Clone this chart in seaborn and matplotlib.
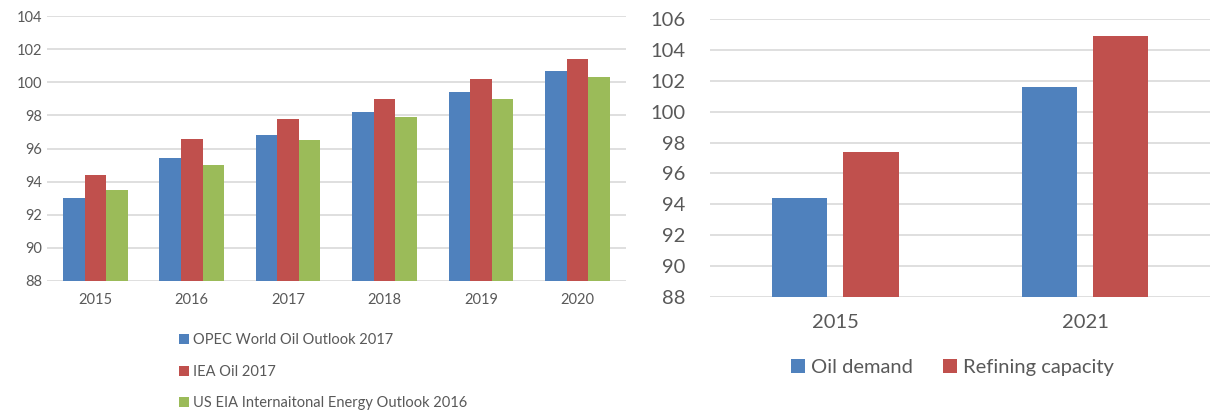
import pandas as pd
import seaborn as sns
from matplotlib import pyplot as plt

# left chart: world oil demand forecasts
years = ["2015", "2016", "2017", "2018", "2019", "2020"]
opec = [93.0, 95.4, 96.8, 98.2, 99.4, 100.7]
iea = [94.4, 96.6, 97.8, 99.0, 100.2, 101.4]
eia = [93.5, 95.0, 96.5, 97.9, 99.0, 100.3]
left_series = ["OPEC World Oil Outlook 2017", "IEA Oil 2017",
               "US EIA Internaitonal Energy Outlook 2016"]

# right chart: demand vs refining capacity
years_r = ["2015", "2021"]
demand = [94.4, 101.6]
refining = [97.4, 104.9]
right_series = ["Oil demand", "Refining capacity"]

BLUE, RED, GREEN = "#4F81BD", "#C0504D", "#9BBB59"
GRID = "#D9D9D9"
TXT = "#595959"

sns.set_theme(style="white")
plt.rcParams["font.family"] = ["Lato", "DejaVu Sans"]

df_l = pd.DataFrame({
    "year": years * 3,
    "value": opec + iea + eia,
    "source": [left_series[0]] * 6 + [left_series[1]] * 6 + [left_series[2]] * 6,
})
df_r = pd.DataFrame({
    "year": years_r * 2,
    "value": demand + refining,
    "series": [right_series[0]] * 2 + [right_series[1]] * 2,
})

fig = plt.figure(figsize=(12.1, 4.12), dpi=100)
ax1 = fig.add_axes([0.039, 0.318, 0.478, 0.643])
ax2 = fig.add_axes([0.587, 0.279, 0.413, 0.675])


def style_axis(ax, ymin, ymax, size):
    ax.set_ylim(ymin, ymax)
    ax.set_yticks(range(ymin, ymax + 1, 2))
    ax.yaxis.grid(True, color=GRID, linewidth=1.2)
    ax.set_axisbelow(True)
    for s in ax.spines.values():
        s.set_visible(False)
    ax.tick_params(axis="both", length=0, colors=TXT, labelsize=size)
    ax.set_xlabel("")
    ax.set_ylabel("")


sns.barplot(data=df_l, x="year", y="value", hue="source", ax=ax1,
            palette=[BLUE, RED, GREEN], width=0.67, saturation=1,
            edgecolor="none")
style_axis(ax1, 88, 104, 10.5)
ax1.tick_params(axis="x", pad=9)
h, l = ax1.get_legend_handles_labels()
ax1.get_legend().remove()
fig.legend(h, l, loc="upper left", bbox_to_anchor=(0.143, 0.205),
           frameon=False, fontsize=10.5, labelcolor=TXT, handlelength=0.7,
           handleheight=0.7, handletextpad=0.3, labelspacing=1.2,
           borderaxespad=0)

sns.barplot(data=df_r, x="year", y="value", hue="series", ax=ax2,
            palette=[BLUE, RED], width=0.57, gap=0.22, saturation=1,
            edgecolor="none")
style_axis(ax2, 88, 106, 14.5)
ax2.tick_params(axis="x", pad=12)
ax2.tick_params(axis="y", pad=18)
h, l = ax2.get_legend_handles_labels()
ax2.get_legend().remove()
fig.legend(h, l, loc="center left", bbox_to_anchor=(0.647, 0.107),
           ncol=2, frameon=False, fontsize=14.5, labelcolor=TXT,
           handlelength=0.7, handleheight=0.7, handletextpad=0.3,
           columnspacing=1.5, borderaxespad=0)

fig.savefig("out.png", dpi=100)
